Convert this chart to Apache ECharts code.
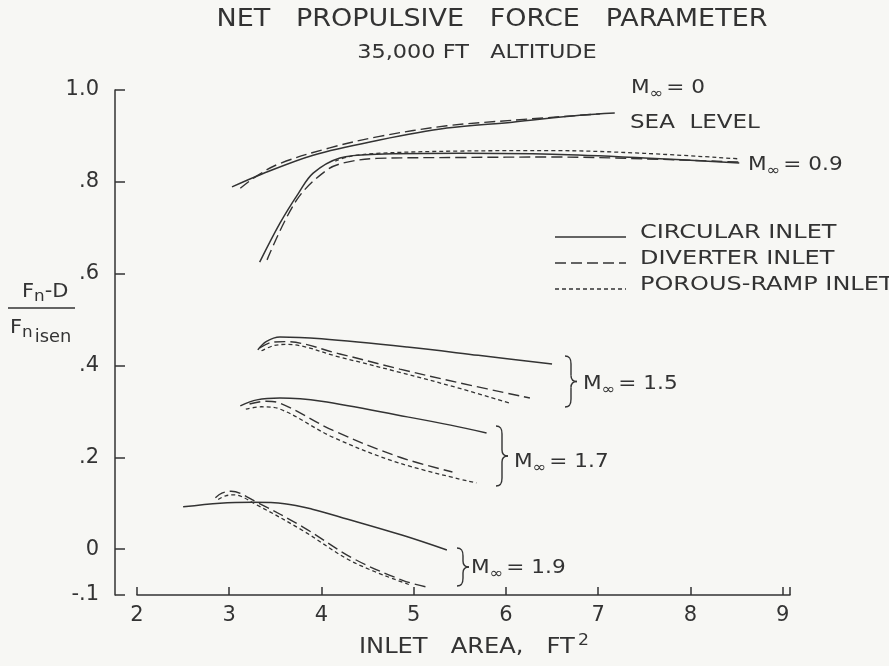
<!DOCTYPE html>
<html>
<head>
<meta charset="utf-8">
<script src="https://cdn.jsdelivr.net/npm/echarts@6/dist/echarts.min.js"></script>
<style>
html,body{margin:0;padding:0;background:#f7f7f4;}
#main{width:889px;height:666px;}
</style>
</head>
<body>
<div id="main"></div>
<script>
// ---- Data ----
const xTicks = [2, 3, 4, 5, 6, 7, 8, 9];
const yLabelValues = [-0.1, 0, 0.2, 0.4, 0.6, 0.8, 1.0];
const yLabelTexts = ['-.1', '0', '.2', '.4', '.6', '.8', '1.0'];
const yTickValues = [0, 0.2, 0.4, 0.6, 0.8, 1.0];

// M = 0, sea level
const m0CircX = [3.03, 3.33, 3.91, 4.63, 5.36, 6.07, 6.80, 7.18];
const m0CircY = [0.789, 0.815, 0.858, 0.891, 0.917, 0.930, 0.945, 0.950];
const m0DivX  = [3.12, 3.30, 3.55, 4.09, 4.63, 5.36, 6.07, 7.02];
const m0DivY  = [0.786, 0.813, 0.840, 0.874, 0.899, 0.922, 0.934, 0.948];

// M = 0.9
const m09CircX = [3.33, 3.55, 3.75, 3.91, 4.20, 4.60, 5.50, 6.50, 7.50, 8.53];
const m09CircY = [0.625, 0.710, 0.775, 0.819, 0.852, 0.860, 0.862, 0.860, 0.852, 0.841];
const m09DivX  = [3.41, 3.73, 4.06, 4.28, 4.60, 5.50, 6.50, 7.50, 8.53];
const m09DivY  = [0.630, 0.760, 0.826, 0.843, 0.851, 0.853, 0.854, 0.850, 0.843];
const m09PorX  = [4.15, 4.30, 4.60, 5.50, 6.50, 7.50, 8.53];
const m09PorY  = [0.845, 0.855, 0.862, 0.867, 0.868, 0.862, 0.850];

// M = 1.5
const m15CircX = [3.31, 3.40, 3.55, 4.00, 4.93, 5.70, 6.50];
const m15CircY = [0.434, 0.452, 0.462, 0.458, 0.440, 0.422, 0.403];
const m15DivX  = [3.33, 3.45, 3.60, 4.20, 4.85, 5.50, 6.26];
const m15DivY  = [0.438, 0.450, 0.452, 0.425, 0.392, 0.362, 0.329];
const m15PorX  = [3.35, 3.48, 3.62, 4.20, 4.85, 5.50, 6.04];
const m15PorY  = [0.432, 0.443, 0.446, 0.418, 0.385, 0.350, 0.318];

// M = 1.7
const m17CircX = [3.12, 3.30, 3.55, 4.00, 4.93, 5.40, 5.79];
const m17CircY = [0.312, 0.325, 0.329, 0.322, 0.288, 0.270, 0.253];
const m17DivX  = [3.22, 3.40, 3.55, 4.12, 4.85, 5.42];
const m17DivY  = [0.316, 0.322, 0.318, 0.259, 0.200, 0.168];
const m17PorX  = [3.18, 3.35, 3.55, 4.12, 4.85, 5.68];
const m17PorY  = [0.305, 0.310, 0.305, 0.244, 0.187, 0.144];

// M = 1.9
const m19CircX = [2.50, 2.90, 3.26, 3.60, 3.90, 4.20, 4.88, 5.36];
const m19CircY = [0.092, 0.100, 0.102, 0.099, 0.087, 0.070, 0.030, -0.002];
const m19DivX  = [2.85, 2.92, 3.02, 3.30, 3.80, 4.34, 4.88, 5.15];
const m19DivY  = [0.112, 0.122, 0.126, 0.102, 0.048, -0.020, -0.068, -0.083];
const m19PorX  = [2.88, 2.96, 3.05, 3.30, 3.80, 4.34, 4.96];
const m19PorY  = [0.108, 0.116, 0.118, 0.096, 0.040, -0.028, -0.078];

const seriesNames = ['CIRCULAR INLET', 'DIVERTER INLET', 'POROUS-RAMP INLET'];

// ---- Styling ----
const INK = '#333333';
const FONT = 'DejaVu Sans';
const styles = {
  'CIRCULAR INLET':    { type: 'solid', width: 1.5 },
  'DIVERTER INLET':    { type: [11, 5], width: 1.4 },
  'POROUS-RAMP INLET': { type: [4, 3], width: 1.3 }
};

function pairs(xs, ys) { return xs.map((x, i) => [x, ys[i]]); }
function mk(name, xs, ys) {
  return {
    name: name, type: 'line', data: pairs(xs, ys),
    symbol: 'none', smooth: 0.35, silent: true,
    lineStyle: Object.assign({ color: INK }, styles[name]),
    itemStyle: { color: INK }
  };
}

const series = [
  mk(seriesNames[0], m0CircX, m0CircY),
  mk(seriesNames[1], m0DivX, m0DivY),
  mk(seriesNames[0], m09CircX, m09CircY),
  mk(seriesNames[1], m09DivX, m09DivY),
  mk(seriesNames[2], m09PorX, m09PorY),
  mk(seriesNames[0], m15CircX, m15CircY),
  mk(seriesNames[1], m15DivX, m15DivY),
  mk(seriesNames[2], m15PorX, m15PorY),
  mk(seriesNames[0], m17CircX, m17CircY),
  mk(seriesNames[1], m17DivX, m17DivY),
  mk(seriesNames[2], m17PorX, m17PorY),
  mk(seriesNames[0], m19CircX, m19CircY),
  mk(seriesNames[1], m19DivX, m19DivY),
  mk(seriesNames[2], m19PorX, m19PorY)
];

const chart = echarts.init(document.getElementById('main'), null, { renderer: 'canvas' });

const richM = {
  m: { fontSize: 20, fontFamily: FONT, color: INK },
  s: { fontSize: 15, fontFamily: FONT, color: INK, padding: [12, 3, 0, 0] }
};
function txt(x, y, text, size, sx, align) {
  return {
    type: 'text', x: x, y: y, scaleX: sx || 1, silent: true,
    style: { text: text, font: size + 'px "DejaVu Sans"', fill: INK,
      textAlign: align || 'left', textVerticalAlign: 'middle' }
  };
}
function mLabel(x, y, val) {
  return {
    type: 'text', x: x, y: y, scaleX: 1.08, silent: true,
    style: { text: '{m|M}{s|∞}{m|= ' + val + '}', rich: richM, textVerticalAlign: 'middle', fill: INK }
  };
}
function brace(x, yt, yb) {
  const ym = (yt + yb) / 2, w = 12, h = 6;
  const st = { stroke: INK, lineWidth: 1.4, fill: null };
  return {
    type: 'group', silent: true,
    children: [
      { type: 'bezierCurve', shape: { x1: x, y1: yt, x2: x + h, y2: yt + 8, cpx1: x + 5, cpy1: yt, cpx2: x + h, cpy2: yt + 3 }, style: st },
      { type: 'line', shape: { x1: x + h, y1: yt + 8, x2: x + h, y2: ym - 6 }, style: st },
      { type: 'bezierCurve', shape: { x1: x + h, y1: ym - 6, x2: x + w, y2: ym, cpx1: x + h, cpy1: ym - 1, cpx2: x + 9, cpy2: ym }, style: st },
      { type: 'bezierCurve', shape: { x1: x + w, y1: ym, x2: x + h, y2: ym + 6, cpx1: x + 9, cpy1: ym, cpx2: x + h, cpy2: ym + 1 }, style: st },
      { type: 'line', shape: { x1: x + h, y1: ym + 6, x2: x + h, y2: yb - 8 }, style: st },
      { type: 'bezierCurve', shape: { x1: x + h, y1: yb - 8, x2: x, y2: yb, cpx1: x + h, cpy1: yb - 3, cpx2: x + 5, cpy2: yb }, style: st }
    ]
  };
}
function legendItem(y, name) {
  const st = styles[name];
  return {
    type: 'group', silent: true,
    children: [
      { type: 'line', shape: { x1: 555, y1: y + 4, x2: 626, y2: y + 4 },
        style: { stroke: INK, lineWidth: st.width, lineDash: st.type === 'solid' ? null : st.type } },
      txt(640, y, name, 20, 1.2)
    ]
  };
}

chart.setOption({
  backgroundColor: '#f7f7f4',
  animation: false,
  grid: { left: 137, right: 99, top: 90, bottom: 71, containLabel: false },
  xAxis: {
    type: 'value', min: 2, max: 9.08, interval: 1,
    axisLine: { onZero: false, lineStyle: { color: INK, width: 1.5 } },
    axisTick: { inside: true, length: 8, lineStyle: { color: INK, width: 1.5 } },
    axisLabel: { fontSize: 21, fontFamily: FONT, color: INK, margin: 10,
      formatter: v => (xTicks.indexOf(v) >= 0 ? String(v) : '') },
    splitLine: { show: false }
  },
  yAxis: {
    type: 'value', min: -0.1, max: 1.0, offset: 22,
    axisLine: { show: true, onZero: false, lineStyle: { color: INK, width: 1.5 } },
    axisTick: { show: true, inside: true, length: 10, customValues: yTickValues,
      lineStyle: { color: INK, width: 1.5 } },
    axisLabel: { fontSize: 21, fontFamily: FONT, color: INK, margin: 16,
      customValues: yLabelValues,
      formatter: v => {
        const i = yLabelValues.findIndex(t => Math.abs(t - v) < 1e-6);
        return i >= 0 ? yLabelTexts[i] : '';
      } },
    splitLine: { show: false }
  },
  graphic: [
    txt(492, 19, 'NET   PROPULSIVE   FORCE   PARAMETER', 25, 1.08, 'center'),
    txt(477, 53, '35,000 FT   ALTITUDE', 20, 1.12, 'center'),
    // x-axis title
    { type: 'text', x: 474, y: 648, scaleX: 1.15, silent: true,
      style: { text: 'INLET   AREA,   FT{sup|2}', rich: {
          sup: { fontSize: 15, fontFamily: FONT, padding: [0, 0, 14, 3] } },
        font: '21px "DejaVu Sans"', fill: INK, textAlign: 'center', textVerticalAlign: 'middle' } },
    // y-axis fraction label
    { type: 'text', x: 22, y: 292, scaleX: 1.05, silent: true,
      style: { text: 'F{s|n}-D', rich: {
          s: { fontSize: 16, fontFamily: FONT, padding: [9, 0, 0, 0] } },
        font: '20px "DejaVu Sans"', fill: INK, textVerticalAlign: 'middle' } },
    { type: 'line', silent: true, shape: { x1: 8, y1: 308, x2: 75, y2: 308 },
      style: { stroke: INK, lineWidth: 1.4 } },
    { type: 'text', x: 10, y: 328, scaleX: 1.05, silent: true,
      style: { text: 'F{s|n}{ss|isen}', rich: {
          s: { fontSize: 16, fontFamily: FONT, padding: [9, 0, 0, 0] },
          ss: { fontSize: 17, fontFamily: FONT, padding: [20, 0, 0, 2] } },
        font: '20px "DejaVu Sans"', fill: INK, textVerticalAlign: 'middle' } },
    // small foot of y axis
    { type: 'line', silent: true, shape: { x1: 115, y1: 595, x2: 125, y2: 595 },
      style: { stroke: INK, lineWidth: 1.5 } },
    // legend
    legendItem(233, seriesNames[0]),
    legendItem(259, seriesNames[1]),
    legendItem(285, seriesNames[2]),
    // annotations
    mLabel(631, 88, '0'),
    txt(630, 123, 'SEA  LEVEL', 20, 1.15),
    mLabel(748, 165, '0.9'),
    brace(565, 356, 407), mLabel(583, 384, '1.5'),
    brace(496, 426, 486), mLabel(514, 462, '1.7'),
    brace(457, 548, 586), mLabel(471, 568, '1.9')
  ],
  series: series
});
</script>
</body>
</html>
